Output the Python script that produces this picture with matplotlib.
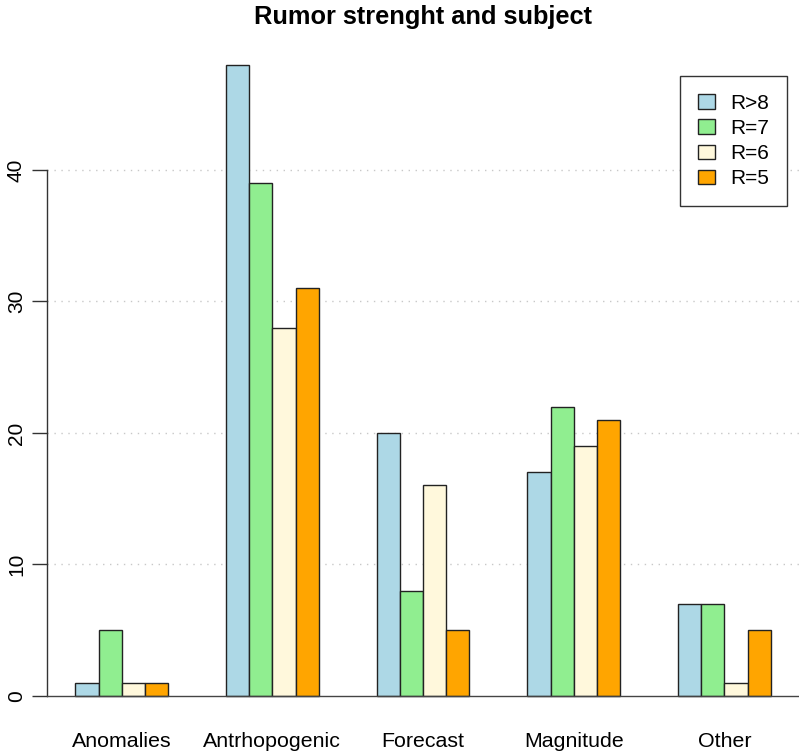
import matplotlib
matplotlib.use("Agg")
import matplotlib.pyplot as plt
from matplotlib.patches import Patch
import numpy as np

plt.rcParams['font.family'] = ['Liberation Sans', 'DejaVu Sans']

categories = ["Anomalies", "Antrhopogenic", "Forecast", "Magnitude", "Other"]
series_names = ["R>8", "R=7", "R=6", "R=5"]
r8 = [1, 48, 20, 17, 7]
r7 = [5, 39, 8, 22, 7]
r6 = [1, 28, 16, 19, 1]
r5 = [1, 31, 5, 21, 5]
colors = ["#ADD8E6", "#90EE90", "#FFF8DC", "#FFA500"]
yticks = [0, 10, 20, 30, 40]

series = [r8, r7, r6, r5]

W, H = 803, 755
fig = plt.figure(figsize=(W / 100, H / 100), dpi=100)
left, right = 47.5 / W, 798.6 / W
bottom, top = (H - 721) / H, (H - 39.6) / H
ax = fig.add_axes([left, bottom, right - left, top - bottom])

gap = 2.5
pitch = 4 + gap
ngroups = len(categories)
for gi in range(ngroups):
    start = gap + gi * pitch
    for si, s in enumerate(series):
        ax.bar(start + si + 0.5, s[gi], width=1.0, color=colors[si],
               edgecolor="#222222", linewidth=1.0, zorder=3)

xmin, xmax = gap, ngroups * pitch
rng = xmax - xmin
ax.set_xlim(xmin - 0.04 * rng, xmax + 0.04 * rng)
ymax = max(max(s) for s in series)
ax.set_ylim(-0.04 * ymax, ymax * 1.04)

# grid
for yv in yticks[1:]:
    ax.axhline(yv, color="#c8c8c8", linestyle=(0, (1, 4)), linewidth=1.0, zorder=1)
ax.axhline(0, color="#444444", linewidth=1.0, zorder=4)

for sp in ["top", "right", "bottom"]:
    ax.spines[sp].set_visible(False)
ax.spines["left"].set_bounds(0, 40)
ax.spines["left"].set_color("#333333")
ax.spines["left"].set_linewidth(1.0)

ax.set_yticks(yticks)
ax.set_yticklabels([str(v) for v in yticks], rotation=90, va="center", fontsize=15)
ax.tick_params(axis="y", length=10.5, width=1.0, color="#333333", pad=5)

centers = [gap + gi * pitch + 2 for gi in range(ngroups)]
ax.set_xticks(centers)
ax.set_xticklabels(categories, fontsize=15.4)
ax.tick_params(axis="x", length=0, pad=8)

handles = [Patch(facecolor=c, edgecolor="#222222", linewidth=1.0) for c in colors]
fig.legend(handles, series_names, loc="upper right",
           bbox_to_anchor=(787 / W, 1 - 76 / H), borderaxespad=0,
           fontsize=15, frameon=True, fancybox=False, edgecolor="#333333",
           handlelength=0.8, handleheight=0.7, handletextpad=0.75,
           labelspacing=0.3, borderpad=0.85, framealpha=1)

fig.text(423 / W, 1 - 17 / H, "Rumor strenght and subject", ha="center",
         va="center", fontsize=18.3, fontweight="bold")

fig.savefig("out.png", dpi=100, facecolor="white")
